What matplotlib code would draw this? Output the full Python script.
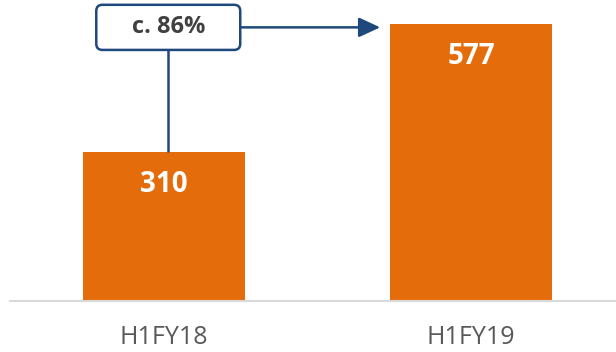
import matplotlib
matplotlib.use("Agg")
import matplotlib.pyplot as plt
from matplotlib.patches import FancyBboxPatch

categories = ["H1FY18", "H1FY19"]
values = [310, 577]
growth_label = "c. 86%"

orange = "#E46C0A"
navy = "#1F497D"

plt.rcParams['font.family'] = ['Open Sans', 'DejaVu Sans']

fig = plt.figure(figsize=(6.16, 3.52), dpi=100)
ax = fig.add_axes([10/616, (352-301)/352, 606/616, 301/352])
x = list(range(len(categories)))
ax.bar(x, values, width=0.528, color=orange, zorder=2)
ax.set_xlim(-0.502, 1.472)
ax.set_ylim(0, 627)

for s in ["top", "right", "left"]:
    ax.spines[s].set_visible(False)
ax.spines["bottom"].set_color("#D9D9D9")
ax.spines["bottom"].set_linewidth(1.5)
ax.set_yticks([])
ax.set_xticks(x)
ax.set_xticklabels(categories, fontsize=18, color="#595959")
ax.tick_params(axis="x", length=0, pad=17)

for xi, v in zip(x, values):
    ax.text(xi, v - 67, str(v), ha="center", va="center", color="white",
            fontsize=20, fontweight="bold", zorder=3)

# growth box
bx0, bx1 = -0.221, 0.248
by0, by1 = 523, 617
box = FancyBboxPatch((bx0, by0), bx1 - bx0, by1 - by0,
                     boxstyle="round,pad=0,rounding_size=0.02",
                     mutation_aspect=307/0.48,
                     facecolor="white", edgecolor=navy, linewidth=1.8, zorder=4)
ax.add_patch(box)
ymid = (by0 + by1) / 2
ax.text((bx0 + bx1) / 2, ymid, growth_label, ha="center", va="center",
        fontsize=17, fontweight="bold", color="#404040", zorder=5)
# vertical connector to first bar
ax.plot([0.013, 0.013], [values[0], by0], color=navy, linewidth=1.8, zorder=3,
        solid_capstyle="butt")
# arrow to second bar
ax.annotate("", xy=(0.704, ymid), xytext=(bx1, ymid),
            arrowprops=dict(arrowstyle="-|>,head_length=1.3,head_width=0.6",
                            color=navy, lw=1.8, shrinkA=0, shrinkB=0), zorder=3)

fig.savefig("out.png", dpi=100)
